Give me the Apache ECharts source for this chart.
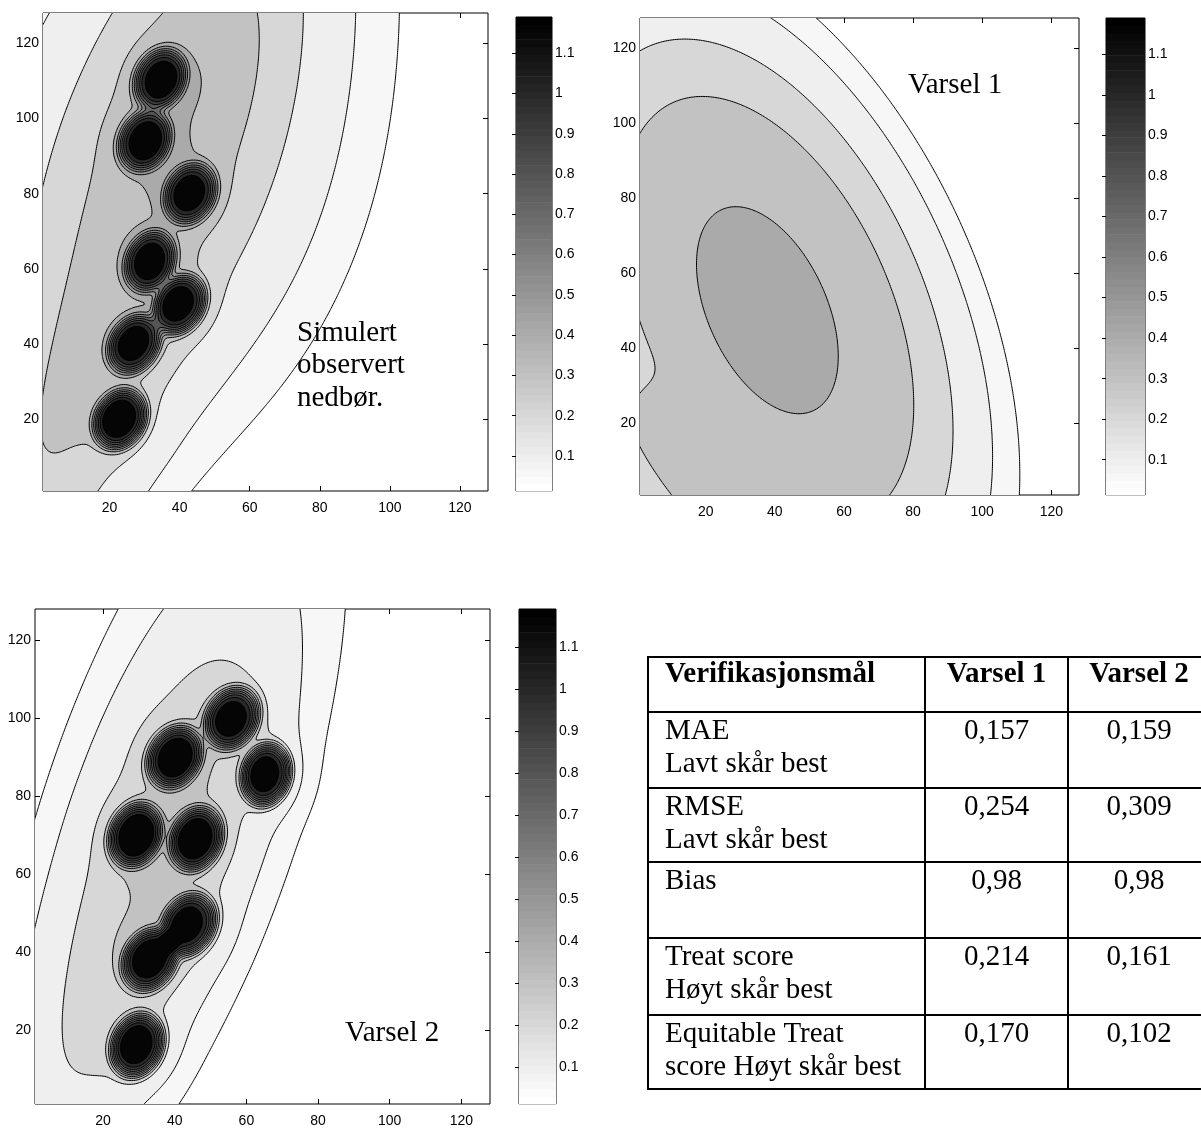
<!DOCTYPE html>
<html>
<head>
<meta charset="utf-8">
<script src="https://cdn.jsdelivr.net/npm/echarts@6/dist/echarts.min.js"></script>
<style>
  html, body { margin: 0; padding: 0; background: #fff; }
  #chart { width: 1201px; height: 1131px; }
</style>
</head>
<body>
<div id="chart"></div>
<script>
// ---- axis ticks ----
const axisTicks = [20, 40, 60, 80, 100, 120];
const colorbarTicks = [0.1, 0.2, 0.3, 0.4, 0.5, 0.6, 0.7, 0.8, 0.9, 1, 1.1];
const contourLevels = [0.05, 0.1, 0.2, 0.3, 0.4, 0.5, 0.6, 0.7, 0.8, 0.9, 1.0, 1.1];
const colorRange = [0.013, 1.19];
const gridRange = [1, 128];

// ---- precipitation fields ----
// broad rain bands: [centreX, centreY, spreadAlong, spreadAcross, tiltDeg, peak, sharpness]
const observedBands = [
  [31.5, 79.7, 45, 33, 22.3, 0.215, 2],
  [2.5, 10.3, 45, 17.8, 22.3, 0.24, 2],
  [51, 127.6, 35, 18, 20.3, 0.13, 2],
  [51, 127.6, 50, 30, 20.3, 0.10, 2]
];
// intense showers: [centreX, centreY, spreadAlong, spreadAcross, tiltDeg, peak]
const observedShowers = [
  [34.5, 110.5, 7.1, 5.8, 35, 0.72],
  [30, 94, 7.1, 5.8, 35, 0.72],
  [43, 80, 7.1, 5.8, 35, 0.72],
  [31.5, 62, 7.1, 5.6, 30, 0.72],
  [27, 40, 7.1, 5.6, 40, 0.76],
  [40, 50.5, 7.1, 5.6, 40, 0.80],
  [23, 20, 7.1, 5.8, 38, 0.86]
];
const forecast1Bands = [
  [37.85, 50.2, 70.6, 40, -28, 0.41, 3.5],
  [-10, -10, 38, 38, 0, 0.17, 8]
];
const forecast1Showers = [];
const forecast2Bands = [
  [34.9, 71, 42, 18, 21.6, 0.20, 2],
  [11.6, 10.3, 35, 15, 21, 0.12, 2],
  [57.5, 128, 50, 24, 21, 0.06, 2],
  [45, 62, 45, 16, 17, 0.07, 2]
];
const forecast2Showers = [
  [56, 100, 7.1, 5.8, 40, 0.84],
  [40, 90, 7.1, 5.8, 40, 0.84],
  [65.5, 85.5, 6.8, 5.6, 20, 0.92],
  [29, 70, 7.1, 5.8, 30, 0.86],
  [46, 69, 7.1, 5.8, 30, 0.84],
  [33, 38, 7.1, 5.8, 40, 0.84],
  [44, 47, 7.1, 5.8, 40, 0.84],
  [29.5, 16, 7.1, 5.8, 30, 0.92]
];
// every shower is a flat-topped core on a soft skirt
const SHOWER_SHARPNESS = 5;
const SKIRT_PEAK = 0.12;
const SKIRT_SPREAD = 6;

// ---- verification table ----
const tableHeader = ['Verifikasjonsmål', 'Varsel 1', 'Varsel 2'];
const tableMeasures = [
  ['MAE', 'Lavt skår best'],
  ['RMSE', 'Lavt skår best'],
  ['Bias'],
  ['Treat score', 'Høyt skår best'],
  ['Equitable Treat', 'score Høyt skår best']
];
const tableVarsel1 = ['0,157', '0,254', '0,98', '0,214', '0,170'];
const tableVarsel2 = ['0,159', '0,309', '0,98', '0,161', '0,102'];

// ---- colour map: reversed grey, 64 steps ----
const MAP_STEPS = 64;
function grey(v) {
  let t = (v - colorRange[0]) / (colorRange[1] - colorRange[0]);
  t = Math.max(0, Math.min(1, t));
  const idx = Math.min(MAP_STEPS - 1, Math.floor(t * MAP_STEPS));
  const g = Math.round(255 * (1 - idx / (MAP_STEPS - 1)));
  return 'rgb(' + g + ',' + g + ',' + g + ')';
}
const topFill = '#050505';

// ---- field sampling ----
function cellValue(c, x, y, sharp) {
  const th = c[4] * Math.PI / 180;
  const dx = x - c[0], dy = y - c[1];
  const p = (dx * Math.sin(th) + dy * Math.cos(th)) / c[2];
  const q = (dx * Math.cos(th) - dy * Math.sin(th)) / c[3];
  return c[5] * Math.exp(-0.5 * Math.pow(p * p + q * q, sharp / 2));
}
function fieldValue(bands, showers, x, y) {
  let s = 0;
  for (const b of bands) s += cellValue(b, x, y, b[6]);
  for (const c of showers) {
    s += cellValue(c, x, y, SHOWER_SHARPNESS);
    const dx = x - c[0], dy = y - c[1];
    s += SKIRT_PEAK * Math.exp(-0.5 * (dx * dx + dy * dy) / (SKIRT_SPREAD * SKIRT_SPREAD));
  }
  return s;
}

// contour rings by marching squares on a padded lattice (padding keeps every ring closed)
function contourRings(bands, showers) {
  const h = 0.5;
  const x0 = gridRange[0] - 1, y0 = gridRange[0] - 1;
  const nx = Math.round((gridRange[1] - gridRange[0] + 2) / h) + 1;
  const ny = nx;
  const f = new Float64Array(nx * ny);
  for (let j = 0; j < ny; j++) {
    for (let i = 0; i < nx; i++) {
      const edge = i === 0 || j === 0 || i === nx - 1 || j === ny - 1;
      f[j * nx + i] = edge ? -1 : fieldValue(bands, showers, x0 + i * h, y0 + j * h);
    }
  }
  const rings = [];
  contourLevels.forEach((L, li) => {
    const pts = new Map();
    const hiNode = new Map();
    function ep(key, ia, ja, ib, jb) {
      if (!pts.has(key)) {
        const va = f[ja * nx + ia], vb = f[jb * nx + ib];
        const t = (L - va) / (vb - va);
        pts.set(key, [x0 + (ia + t * (ib - ia)) * h, y0 + (ja + t * (jb - ja)) * h]);
        hiNode.set(key, va >= L ? [x0 + ia * h, y0 + ja * h] : [x0 + ib * h, y0 + jb * h]);
      }
      return key;
    }
    const segs = [];
    for (let j = 0; j < ny - 1; j++) {
      for (let i = 0; i < nx - 1; i++) {
        const va = f[j * nx + i], vb = f[j * nx + i + 1], vc = f[(j + 1) * nx + i + 1], vd = f[(j + 1) * nx + i];
        const a = va >= L, b = vb >= L, c = vc >= L, d = vd >= L;
        if (a === b && b === c && c === d) continue;
        const kB = (j * nx + i) * 2, kR = (j * nx + i + 1) * 2 + 1, kT = ((j + 1) * nx + i) * 2, kL = (j * nx + i) * 2 + 1;
        const E = [];
        if (a !== b) E.push(ep(kB, i, j, i + 1, j));
        if (b !== c) E.push(ep(kR, i + 1, j, i + 1, j + 1));
        if (c !== d) E.push(ep(kT, i, j + 1, i + 1, j + 1));
        if (d !== a) E.push(ep(kL, i, j, i, j + 1));
        if (E.length === 2) {
          segs.push([E[0], E[1]]);
        } else if (E.length === 4) {
          const centreHigh = (va + vb + vc + vd) / 4 >= L;
          const cutBR = (a && c) ? centreHigh : !centreHigh;
          if (cutBR) { segs.push([kB, kR]); segs.push([kT, kL]); }
          else { segs.push([kL, kB]); segs.push([kR, kT]); }
        }
      }
    }
    const adj = new Map();
    segs.forEach((s, k) => {
      for (const e of s) {
        if (!adj.has(e)) adj.set(e, []);
        adj.get(e).push(k);
      }
    });
    const used = new Uint8Array(segs.length);
    for (let k = 0; k < segs.length; k++) {
      if (used[k]) continue;
      used[k] = 1;
      const start = segs[k][0];
      let cur = segs[k][1];
      const keys = [start, cur];
      while (cur !== start) {
        let next = -1;
        for (const m of adj.get(cur)) if (!used[m]) { next = m; break; }
        if (next < 0) break;
        used[next] = 1;
        cur = segs[next][0] === cur ? segs[next][1] : segs[next][0];
        if (cur !== start) keys.push(cur);
      }
      const poly = keys.map(kk => pts.get(kk));
      const probe = hiNode.get(start);
      let inside = false;
      for (let a = 0, b = poly.length - 1; a < poly.length; b = a++) {
        const [xa, ya] = poly[a], [xb, yb] = poly[b];
        if ((ya > probe[1]) !== (yb > probe[1]) &&
            probe[0] < (xb - xa) * (probe[1] - ya) / (yb - ya) + xa) inside = !inside;
      }
      const isTop = li === contourLevels.length - 1;
      rings.push({
        level: li,
        hole: !inside,
        points: poly,
        fill: inside ? (isTop ? topFill : grey(L)) : (li > 0 ? grey(contourLevels[li - 1]) : grey(colorRange[0]))
      });
    }
  });
  // paint outer rings of a level before that level's holes
  rings.sort((r1, r2) => (r1.level - r2.level) || ((r1.hole ? 1 : 0) - (r2.hole ? 1 : 0)));
  return rings;
}

// ---- layout of the panels (pixels) ----
const panels = [
  { box: { left: 43, top: 13, width: 445, height: 478 }, bar: { left: 516, top: 17, width: 36, height: 474 }, bands: observedBands, showers: observedShowers },
  { box: { left: 640, top: 18, width: 439, height: 477 }, bar: { left: 1106, top: 18, width: 39, height: 477 }, bands: forecast1Bands, showers: forecast1Showers },
  { box: { left: 35, top: 609, width: 455, height: 495 }, bar: { left: 519, top: 609, width: 37, height: 495 }, bands: forecast2Bands, showers: forecast2Showers }
];

const tickFont = { fontFamily: 'Liberation Sans, Arial, sans-serif', fontSize: 14, color: '#000' };
const grids = [], xAxes = [], yAxes = [], series = [];

panels.forEach((pn) => {
  const gMap = grids.length;
  grids.push(Object.assign({ show: true, borderColor: '#000', borderWidth: 1, backgroundColor: grey(colorRange[0]) }, pn.box));
  const gBar = grids.length;
  grids.push(Object.assign({ show: true, borderColor: '#000', borderWidth: 1, backgroundColor: '#fff' }, pn.bar));

  const valueAxis = (extra) => Object.assign({
    type: 'value', min: gridRange[0], max: gridRange[1],
    splitLine: { show: false },
    axisLine: { show: false },
    axisTick: { show: true, inside: true, length: 5, customValues: axisTicks, lineStyle: { color: '#000', width: 1 } },
    axisLabel: { show: false }
  }, extra);

  const xMain = xAxes.length;
  xAxes.push(valueAxis({ gridIndex: gMap, position: 'bottom',
    axisLabel: Object.assign({ show: true, customValues: axisTicks, margin: 10 }, tickFont) }));
  xAxes.push(valueAxis({ gridIndex: gMap, position: 'top' }));
  const yMain = yAxes.length;
  yAxes.push(valueAxis({ gridIndex: gMap, position: 'left',
    axisLabel: Object.assign({ show: true, customValues: axisTicks, margin: 4 }, tickFont) }));
  yAxes.push(valueAxis({ gridIndex: gMap, position: 'right' }));

  const xBar = xAxes.length;
  xAxes.push({ type: 'value', gridIndex: gBar, min: 0, max: 1, show: false });
  const barAxis = (pos, labels) => ({
    type: 'value', gridIndex: gBar, position: pos, min: colorRange[0], max: colorRange[1],
    splitLine: { show: false }, axisLine: { show: false },
    axisTick: { show: true, inside: true, length: 4, customValues: colorbarTicks, lineStyle: { color: '#000' } },
    axisLabel: labels ? Object.assign({ show: true, customValues: colorbarTicks, margin: 3 }, tickFont) : { show: false }
  });
  const yBar = yAxes.length;
  yAxes.push(barAxis('right', true));
  yAxes.push(barAxis('left', false));

  const rings = contourRings(pn.bands, pn.showers);
  series.push({
    type: 'custom', xAxisIndex: xMain, yAxisIndex: yMain, clip: true, silent: true,
    data: rings.map((r, i) => [i]),
    renderItem: (params, api) => {
      const r = rings[api.value(0)];
      return { type: 'polygon', shape: { points: r.points.map(p => api.coord(p)) },
               style: { fill: r.fill, stroke: null } };
    }
  });
  series.push({
    type: 'custom', xAxisIndex: xMain, yAxisIndex: yMain, clip: true, silent: true,
    data: rings.map((r, i) => [i]),
    renderItem: (params, api) => {
      const r = rings[api.value(0)];
      const pts = r.points.map(p => api.coord(p));
      pts.push(pts[0]);
      return { type: 'polyline', shape: { points: pts },
               style: { fill: null, stroke: '#000', lineWidth: 1 } };
    }
  });

  // colour bar, one rectangle per colour-map step
  const steps = [];
  for (let s = 0; s < MAP_STEPS; s++) steps.push([s]);
  series.push({
    type: 'custom', xAxisIndex: xBar, yAxisIndex: yBar, silent: true,
    data: steps,
    renderItem: (params, api) => {
      const s = api.value(0);
      const span = colorRange[1] - colorRange[0];
      const v0 = colorRange[0] + span * s / MAP_STEPS, v1 = colorRange[0] + span * (s + 1) / MAP_STEPS;
      const p0 = api.coord([0, v0]), p1 = api.coord([1, v1]);
      const g = Math.round(255 * (1 - s / (MAP_STEPS - 1)));
      return { type: 'rect', shape: { x: p0[0], y: p1[1], width: p1[0] - p0[0], height: p0[1] - p1[1] + 0.6 },
               style: { fill: 'rgb(' + g + ',' + g + ',' + g + ')' } };
    }
  });
});

// ---- annotations and table ----
const serif = 'Liberation Serif, Times New Roman, serif';
const graphics = [];
function addText(text, x, y, align, bold) {
  graphics.push({ type: 'text', z: 100, style: { text, x, y, fill: '#000', align: align, verticalAlign: 'middle',
    font: (bold ? 'bold ' : '') + '29px ' + serif } });
}
addText('Simulert', 297, 333, 'left');
addText('observert', 297, 365, 'left');
addText('nedbør.', 297, 398, 'left');
addText('Varsel 1', 908, 85, 'left');
addText('Varsel 2', 345, 1033, 'left');

const colEdges = [648, 925, 1068, 1210];
const rowEdges = [657, 712, 788, 862, 938, 1015, 1089];
rowEdges.forEach(y => graphics.push({ type: 'line', z: 100, shape: { x1: colEdges[0] - 1, y1: y, x2: colEdges[3], y2: y }, style: { stroke: '#000', lineWidth: 2 } }));
colEdges.forEach(x => graphics.push({ type: 'line', z: 100, shape: { x1: x, y1: rowEdges[0], x2: x, y2: rowEdges[rowEdges.length - 1] }, style: { stroke: '#000', lineWidth: 2 } }));
addText(tableHeader[0], 665, rowEdges[0] + 18, 'left', true);
addText(tableHeader[1], (colEdges[1] + colEdges[2]) / 2, rowEdges[0] + 18, 'center', true);
addText(tableHeader[2], (colEdges[2] + colEdges[3]) / 2, rowEdges[0] + 18, 'center', true);
tableMeasures.forEach((lines, r) => {
  const top = rowEdges[r + 1];
  lines.forEach((t, l) => addText(t, 665, top + 19 + l * 33, 'left'));
  addText(tableVarsel1[r], (colEdges[1] + colEdges[2]) / 2, top + 19, 'center');
  addText(tableVarsel2[r], (colEdges[2] + colEdges[3]) / 2, top + 19, 'center');
});

const chart = echarts.init(document.getElementById('chart'));
chart.setOption({
  animation: false,
  backgroundColor: '#fff',
  grid: grids,
  xAxis: xAxes,
  yAxis: yAxes,
  series: series,
  graphic: graphics
});
</script>
</body>
</html>
